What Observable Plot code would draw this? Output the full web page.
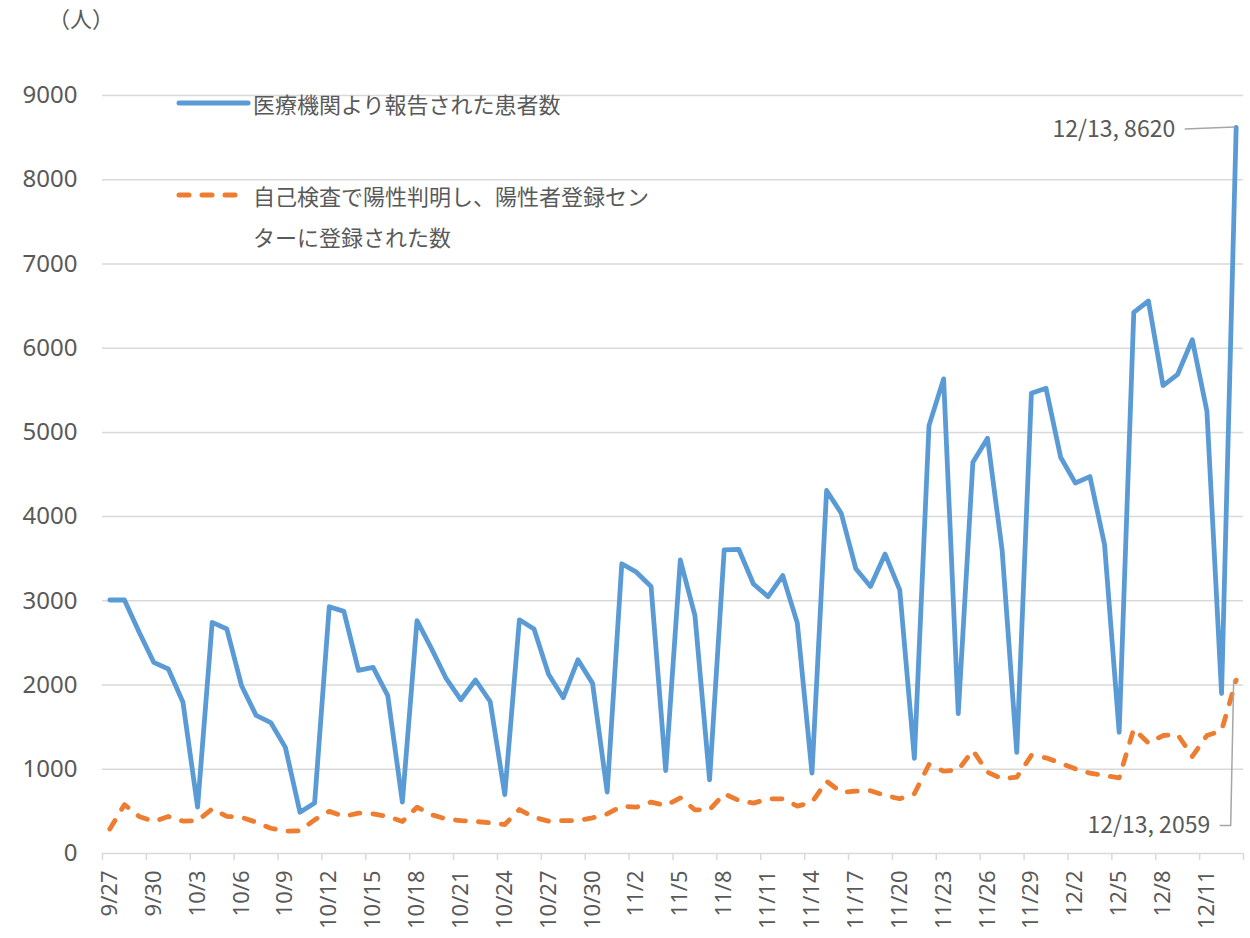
<!DOCTYPE html>
<html>
<head>
<meta charset="utf-8">
<script src="https://cdn.jsdelivr.net/npm/d3@7"></script>
<script src="https://cdn.jsdelivr.net/npm/@observablehq/plot@0.6"></script>
<style>
  body { margin: 0; background: #fff; }
  #wrap { position: relative; width: 1250px; height: 938px; color: #595959;
          font-family: "Noto Sans CJK JP", "Noto Sans", sans-serif; }
  #wrap svg { display: block; }
  .ov { position: absolute; font-size: 22px; white-space: nowrap; }
</style>
</head>
<body>
<div id="wrap"></div>
<script>
// ---- data ----
const dates = [
  "9/27","9/28","9/29","9/30",
  "10/1","10/2","10/3","10/4","10/5","10/6","10/7","10/8","10/9","10/10",
  "10/11","10/12","10/13","10/14","10/15","10/16","10/17","10/18","10/19","10/20",
  "10/21","10/22","10/23","10/24","10/25","10/26","10/27","10/28","10/29","10/30","10/31",
  "11/1","11/2","11/3","11/4","11/5","11/6","11/7","11/8","11/9","11/10",
  "11/11","11/12","11/13","11/14","11/15","11/16","11/17","11/18","11/19","11/20",
  "11/21","11/22","11/23","11/24","11/25","11/26","11/27","11/28","11/29","11/30",
  "12/1","12/2","12/3","12/4","12/5","12/6","12/7","12/8","12/9","12/10",
  "12/11","12/12","12/13"
];
const reported = [
  3010,3010,2630,2270,2190,1795,550,2745,2665,1995,
  1640,1555,1260,490,600,2930,2875,2175,2210,1875,
  610,2765,2430,2075,1825,2060,1805,700,2775,2665,
  2125,1850,2300,2020,730,3440,3340,3170,985,3485,
  2825,875,3605,3610,3200,3050,3300,2735,955,4310,
  4040,3380,3170,3555,3130,1130,5080,5635,1660,4645,
  4930,3600,1200,5465,5525,4705,4400,4475,3670,1440,
  6425,6560,5555,5690,6100,5250,1900,8620
];
const selfTest = [
  290,580,440,380,440,385,390,530,440,430,
  372,300,265,270,400,500,440,480,470,440,
  380,550,460,410,390,380,364,344,522,430,
  384,390,390,424,470,562,550,610,570,661,
  519,519,709,630,598,649,649,562,610,858,
  728,740,745,690,650,710,1057,978,993,1223,
  966,886,906,1164,1136,1073,1005,954,926,898,
  1480,1310,1401,1413,1152,1401,1460,2059
];
const tickLabels = ["9/27","9/30","10/3","10/6","10/9","10/12","10/15","10/18","10/21","10/24",
  "10/27","10/30","11/2","11/5","11/8","11/11","11/14","11/17","11/20","11/23",
  "11/26","11/29","12/2","12/5","12/8","12/11"];
const yTicks = [0,1000,2000,3000,4000,5000,6000,7000,8000,9000];
const seriesNames = ["医療機関より報告された患者数", "自己検査で陽性判明し、陽性者登録セン", "ターに登録された数"];
const unitLabel = "（人）";

// ---- derived table ----
const rows = dates.map((d, i) => ({i, date: d, reported: reported[i], selfTest: selfTest[i]}));
const last = rows[rows.length - 1];
const labelIdx = tickLabels.map(t => dates.indexOf(t));
const boundaries = labelIdx.map(i => i - 0.5).concat([dates.length - 0.5]);

const BLUE = "#5B9BD5", ORANGE = "#ED7D31", GRID = "#d9d9d9", TXT = "#595959";

// leader line drawn via library scales
function leader(key, pts) {
  return (index, scales) => {
    const px = scales.x(last.i), py = scales.y(last[key]);
    const g = d3.create("svg:path")
      .attr("d", d3.line()(pts.map(([dx, dy]) => [px + dx, py + dy])))
      .attr("fill", "none").attr("stroke", "#a6a6a6").attr("stroke-width", 1.5);
    return g.node();
  };
}

const chart = Plot.plot({
  width: 1250, height: 938,
  marginLeft: 102, marginRight: 7, marginTop: 95, marginBottom: 85,
  x: {type: "linear", domain: [-0.5, dates.length - 0.5]},
  y: {domain: [0, 9000]},
  style: {fontFamily: "'Noto Sans', 'Noto Sans CJK JP', sans-serif", color: TXT, background: "transparent", overflow: "visible"},
  marks: [
    Plot.gridY(yTicks, {stroke: GRID, strokeOpacity: 1, strokeWidth: 1.5}),
    Plot.axisY(yTicks, {tickSize: 0, tickPadding: 25, fontSize: 24, label: null, fill: TXT, tickFormat: d3.format("d")}),
    Plot.axisX(boundaries, {tickSize: 7, tickFormat: () => "", stroke: GRID, strokeWidth: 1.5, label: null}),
    Plot.axisX(labelIdx, {tickSize: 0, tickPadding: 17, tickRotate: -90, textAnchor: "end", lineAnchor: "middle",
      tickFormat: i => dates[i], fontSize: 22, label: null, fill: TXT}),
    Plot.line(rows, {x: "i", y: "reported", stroke: BLUE, strokeWidth: 4.8, strokeLinejoin: "round", strokeLinecap: "round"}),
    Plot.line(rows, {x: "i", y: "selfTest", stroke: ORANGE, strokeWidth: 4.8, strokeDasharray: "10,13",
      strokeLinejoin: "round", strokeLinecap: "round"}),
    leader("reported", [[-51, 2], [-1, 0]]),
    Plot.text([last], {x: "i", y: "reported", text: d => `${d.date}, ${d.reported}`, dx: -61, dy: 2,
      textAnchor: "end", fontSize: 23, fill: TXT, fontFamily: "'Noto Sans CJK JP', sans-serif"}),
    leader("selfTest", [[-16, 146], [-5, 146], [-2, 0]]),
    Plot.text([last], {x: "i", y: "selfTest", text: d => `${d.date}, ${d.selfTest}`, dx: -26, dy: 146,
      textAnchor: "end", fontSize: 23, fill: TXT, fontFamily: "'Noto Sans CJK JP', sans-serif"})
  ]
});

const wrap = document.getElementById("wrap");
wrap.appendChild(chart);

// overlay: unit label and legend
const unit = document.createElement("div");
unit.className = "ov";
unit.style.left = "48px"; unit.style.top = "2px"; unit.style.lineHeight = "30px";
unit.textContent = unitLabel;
wrap.appendChild(unit);

function sample(color, dash, top) {
  const s = d3.create("svg").attr("width", 80).attr("height", 12)
    .style("position", "absolute").style("left", "174px").style("top", (top - 6) + "px");
  s.append("line").attr("x1", 5).attr("x2", dash ? 68 : 74).attr("y1", 6).attr("y2", 6)
    .attr("stroke", color).attr("stroke-width", 5).attr("stroke-linecap", "round")
    .attr("stroke-dasharray", dash ? "10,13" : null);
  wrap.appendChild(s.node());
}
sample(BLUE, false, 103);
sample(ORANGE, true, 195);

const l1 = document.createElement("div");
l1.className = "ov";
l1.style.left = "253px"; l1.style.top = (103 - 20) + "px"; l1.style.lineHeight = "40px";
l1.textContent = seriesNames[0];
wrap.appendChild(l1);

const l2 = document.createElement("div");
l2.className = "ov";
l2.style.left = "253px"; l2.style.top = (195 - 20.5) + "px"; l2.style.lineHeight = "41px";
l2.innerHTML = seriesNames[1] + "<br>" + seriesNames[2];
wrap.appendChild(l2);
</script>
</body>
</html>
